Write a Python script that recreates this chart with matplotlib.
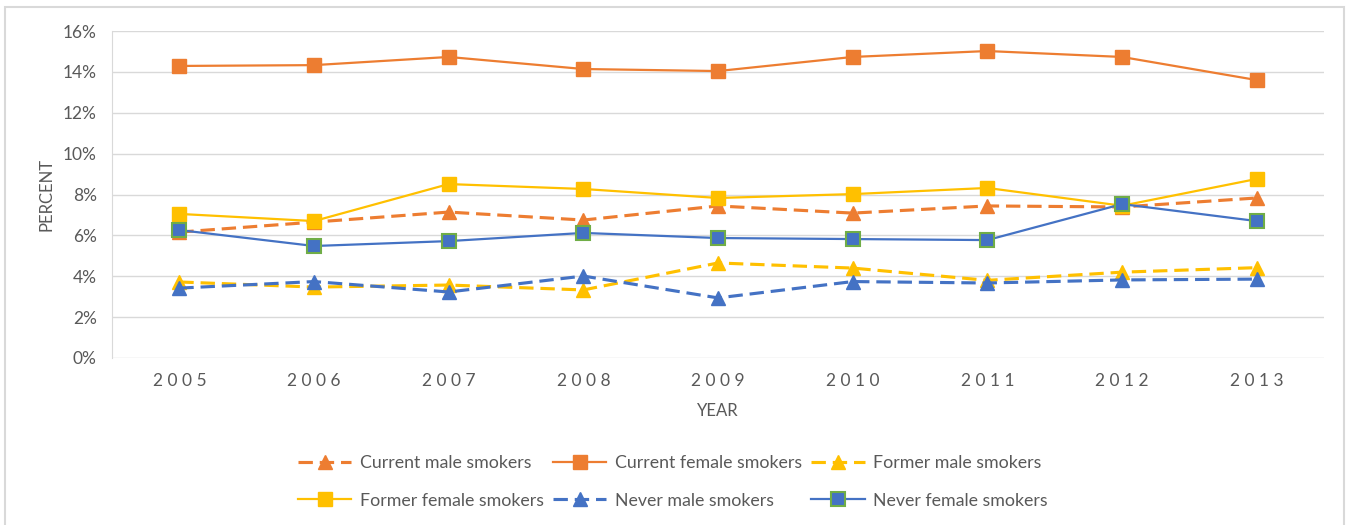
import matplotlib
matplotlib.use("Agg")
import matplotlib.pyplot as plt
from matplotlib.patches import Rectangle
from matplotlib.ticker import FuncFormatter

plt.rcParams['font.family'] = ['Lato', 'DejaVu Sans']

years = [2005, 2006, 2007, 2008, 2009, 2010, 2011, 2012, 2013]
current_male = [6.16, 6.65, 7.14, 6.75, 7.44, 7.09, 7.44, 7.39, 7.83]
current_female = [14.29, 14.33, 14.73, 14.14, 14.04, 14.73, 15.02, 14.73, 13.60]
former_male = [3.72, 3.47, 3.57, 3.33, 4.65, 4.40, 3.80, 4.20, 4.42]
former_female = [7.05, 6.70, 8.51, 8.27, 7.83, 8.02, 8.32, 7.45, 8.76]
never_male = [3.42, 3.74, 3.23, 4.01, 2.94, 3.74, 3.67, 3.82, 3.86]
never_female = [6.26, 5.48, 5.72, 6.12, 5.87, 5.82, 5.77, 7.53, 6.70]
labels = ["Current male smokers", "Current female smokers", "Former male smokers",
          "Former female smokers", "Never male smokers", "Never female smokers"]

ORANGE = "#ED7D31"
YELLOW = "#FFC000"
BLUE = "#4472C4"
GREEN = "#70AD47"
GRID = "#D9D9D9"
TXT = "#595959"

fig = plt.figure(figsize=(13.51, 5.25), dpi=100)
fig.patches.append(Rectangle((5/1351, -0.05), (1344-5)/1351, 1.05 - 7/525,
                             transform=fig.transFigure, fill=False,
                             edgecolor=GRID, linewidth=1.5))
ax = fig.add_axes([112/1351, 1-358/525, (1324-112)/1351, (358-31)/525])

x = list(range(len(years)))
dash = (4.6, 2.2)
h = []
h.append(ax.plot(x, current_male, color=ORANGE, lw=2.25, dashes=dash, marker='^',
                 ms=10.5, mfc=ORANGE, mec=ORANGE)[0])
h.append(ax.plot(x, current_female, color=ORANGE, lw=1.6, marker='s',
                 ms=10.5, mfc=ORANGE, mec=ORANGE)[0])
h.append(ax.plot(x, former_male, color=YELLOW, lw=2.25, dashes=dash, marker='^',
                 ms=10.5, mfc=YELLOW, mec=YELLOW)[0])
h.append(ax.plot(x, former_female, color=YELLOW, lw=1.6, marker='s',
                 ms=10.5, mfc=YELLOW, mec=YELLOW)[0])
h.append(ax.plot(x, never_male, color=BLUE, lw=2.25, dashes=dash, marker='^',
                 ms=10.5, mfc=BLUE, mec=BLUE)[0])
h.append(ax.plot(x, never_female, color=BLUE, lw=1.6, marker='s',
                 ms=10, mfc=BLUE, mec=GREEN, mew=1.5)[0])

ax.set_xlim(-0.5, len(years) - 0.5)
ax.set_ylim(0, 16)
ax.set_yticks(range(0, 17, 2))
ax.yaxis.set_major_formatter(FuncFormatter(lambda v, p: f"{int(v)}%"))
ax.set_xticks(x)
ax.set_xticklabels([" ".join(str(y)) for y in years])
ax.grid(axis='y', color=GRID, lw=1)
ax.set_axisbelow(True)
for s in ['top', 'right', 'bottom']:
    ax.spines[s].set_visible(False)
ax.spines['left'].set_color(GRID)
ax.tick_params(axis='both', length=0, colors=TXT, labelsize=12.5)
ax.tick_params(axis='x', pad=11)
ax.tick_params(axis='y', pad=11)
ax.set_xlabel("YEAR", color=TXT, fontsize=12, labelpad=10)
ax.set_ylabel("PERCENT", color=TXT, fontsize=12, labelpad=6)

order = [0, 3, 1, 4, 2, 5]
leg = fig.legend([h[i] for i in order], [labels[i] for i in order], ncol=3,
                 loc='center', bbox_to_anchor=(673/1351, 1-482/525),
                 frameon=False, fontsize=12.8, handlelength=3.0,
                 handletextpad=0.5, columnspacing=0.5, labelspacing=1.2,
                 labelcolor=TXT)

fig.savefig("out.png", dpi=100, facecolor='white')
